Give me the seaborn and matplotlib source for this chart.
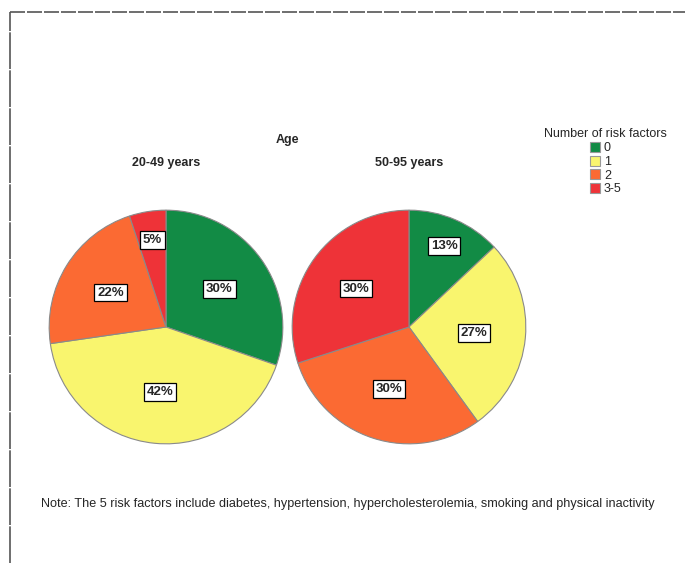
import matplotlib
matplotlib.use('Agg')
import matplotlib.pyplot as plt
from matplotlib.lines import Line2D
from matplotlib.patches import Patch
import seaborn as sns

# Data
risk_groups = ['0', '1', '2', '3-5']
young_pct = [30, 42, 22, 5]
old_pct = [13, 27, 30, 30]
age_groups = ['20-49 years', '50-95 years']
pie_colors = ['#128B45', '#F9F56E', '#FB6A33', '#EE3338']

sns.set_theme(style='white')
plt.rcParams['font.family'] = ['Liberation Sans', 'DejaVu Sans']

W, H = 685, 563
fig = plt.figure(figsize=(W / 100, H / 100), dpi=100)
fig.patch.set_facecolor('white')


def px_axes(cx, cy, r):
    # axes box in pixel units (from top-left), converted to figure fraction
    return fig.add_axes([(cx - r) / W, (H - cy - r) / H, 2 * r / W, 2 * r / H])


def draw_pie(ax, values, title):
    labels = [f'{v}%' for v in values]
    wedges, texts = ax.pie(values, colors=pie_colors, startangle=90, counterclock=False,
                           labels=labels, labeldistance=0.56,
                           wedgeprops=dict(edgecolor='#8a8a8a', linewidth=0.8),
                           textprops=dict(fontsize=9.5, fontweight='bold', ha='center', va='center'))
    for v, t in zip(values, texts):
        t.set_bbox(dict(facecolor='white', edgecolor='black', boxstyle='square,pad=0.22', linewidth=0.9))
        if v < 15:
            x, y = t.get_position()
            t.set_position((x * 1.35, y * 1.35))
    ax.set_xlim(-1.01, 1.01)
    ax.set_ylim(-1.01, 1.01)
    ax.set_aspect('equal')
    ax.axis('off')
    fig.text(ax.get_position().x0 + ax.get_position().width / 2, 1 - 163 / H, title,
             ha='center', va='center', fontsize=9, fontweight='bold')


ax1 = px_axes(166, 327, 118)
draw_pie(ax1, young_pct, age_groups[0])
ax2 = px_axes(409, 327, 118)
draw_pie(ax2, old_pct, age_groups[1])

fig.text(287 / W, 1 - 140 / H, 'Age', ha='center', va='center', fontsize=9, fontweight='bold')

handles = [Patch(facecolor=c, edgecolor='#999999', linewidth=0.8) for c in pie_colors]
leg = fig.legend(handles, risk_groups, title='Number of risk factors',
                 loc='upper left', bbox_to_anchor=(538 / W, 1 - 122 / H),
                 frameon=False, fontsize=9, title_fontsize=9,
                 handlelength=0.85, handleheight=0.85, handletextpad=0.3,
                 labelspacing=0.12, borderpad=0)
leg._legend_box.align = 'center'

fig.text(41 / W, 1 - 504 / H,
         'Note: The 5 risk factors include diabetes, hypertension, hypercholesterolemia, smoking and physical inactivity',
         ha='left', va='center', fontsize=9.1)

# dashed page border on top and left
fig.add_artist(Line2D([10 / W, 1], [1 - 12 / H, 1 - 12 / H], color='#555555', linewidth=1.2,
                      linestyle=(0, (9, 1.2))))
fig.add_artist(Line2D([10 / W, 10 / W], [0, 1 - 12 / H], color='#555555', linewidth=1.2,
                      linestyle=(0, (22, 0.8))))

fig.savefig('out.png', dpi=100, facecolor='white')
